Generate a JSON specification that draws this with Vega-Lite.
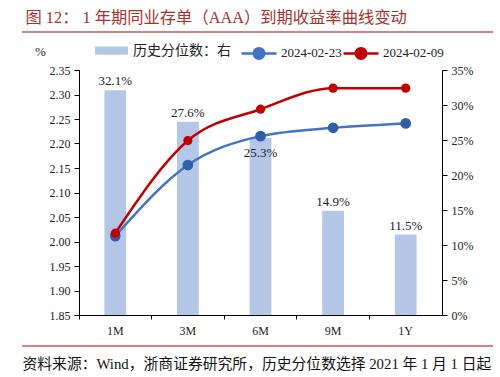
{
  "$schema": "https://vega.github.io/schema/vega-lite/v6.json",
  "width": 363,
  "height": 245,
  "autosize": {"type": "none"},
  "padding": {"left": 79, "top": 70, "right": 58, "bottom": 62},
  "background": "white",
  "config": {
    "view": {"stroke": null},
    "font": "Liberation Serif, Noto Sans CJK SC",
    "axis": {"labelFont": "Liberation Serif", "labelFontSize": 12, "labelColor": "#222", "domainColor": "#000", "tickColor": "#000", "grid": false, "labelOverlap": false, "labelBound": false, "labelSeparation": 0}
  },
  "datasets": {
    "bars": [
      {"tenor": "1M", "pct": 0.321, "series": "历史分位数：右"},
      {"tenor": "3M", "pct": 0.276, "series": "历史分位数：右"},
      {"tenor": "6M", "pct": 0.253, "series": "历史分位数：右"},
      {"tenor": "9M", "pct": 0.149, "series": "历史分位数：右"},
      {"tenor": "1Y", "pct": 0.115, "series": "历史分位数：右"}
    ],
    "lines": [
      {"tenor": "1M", "date": "2024-02-23", "yield": 2.011},
      {"tenor": "3M", "date": "2024-02-23", "yield": 2.156},
      {"tenor": "6M", "date": "2024-02-23", "yield": 2.215},
      {"tenor": "9M", "date": "2024-02-23", "yield": 2.232},
      {"tenor": "1Y", "date": "2024-02-23", "yield": 2.241},
      {"tenor": "1M", "date": "2024-02-09", "yield": 2.017},
      {"tenor": "3M", "date": "2024-02-09", "yield": 2.206},
      {"tenor": "6M", "date": "2024-02-09", "yield": 2.270},
      {"tenor": "9M", "date": "2024-02-09", "yield": 2.313},
      {"tenor": "1Y", "date": "2024-02-09", "yield": 2.313}
    ],
    "rules": [{"edge": "top", "level": 0.40429}, {"edge": "bottom", "level": -0.04429}]
  },
  "layer": [
    {
      "data": {"name": "bars"},
      "encoding": {
        "x": {
          "field": "tenor",
          "type": "nominal",
          "sort": ["1M", "3M", "6M", "9M", "1Y"],
          "scale": {"type": "band", "paddingInner": 0, "paddingOuter": 0},
          "axis": {
            "title": "资料来源：Wind，浙商证券研究所，历史分位数选择 2021 年 1 月 1 日起",
            "titleFont": "Liberation Serif, Noto Sans CJK SC",
            "titleFontSize": 14.8,
            "titleFontWeight": "normal",
            "titleColor": "#111",
            "titleAnchor": "start",
            "titleAlign": "left",
            "titleX": -57,
            "titleY": 53,
            "titleBaseline": "alphabetic",
            "labelAngle": 0,
            "labelPadding": 6,
            "bandPosition": 0,
            "tickSize": 4
          }
        },
        "y": {
          "field": "pct",
          "type": "quantitative",
          "scale": {"domain": [0, 0.35], "nice": false},
          "axis": {
            "orient": "right",
            "values": [0, 0.05, 0.1, 0.15, 0.2, 0.25, 0.3, 0.35],
            "format": ".0%",
            "tickSize": 5,
            "labelPadding": 4,
            "labelOverlap": false,
            "title": "图 12： 1 年期同业存单（AAA）到期收益率曲线变动",
            "titleAngle": 0,
            "titleAlign": "left",
            "titleBaseline": "alphabetic",
            "titleX": -417,
            "titleY": -48,
            "titleFont": "Liberation Serif, Noto Sans CJK SC",
            "titleFontSize": 16.3,
            "titleFontWeight": "normal",
            "titleColor": "#a5322d"
          }
        }
      },
      "layer": [
        {
          "mark": {"type": "bar", "width": {"band": 0.3}},
          "encoding": {
            "fill": {
              "field": "series",
              "type": "nominal",
              "scale": {"range": ["#b4c7e7"]},
              "legend": {
                "orient": "none",
                "legendX": 16,
                "legendY": -36,
                "title": null,
                "symbolType": "M-1,-0.25H1V0.25H-1Z",
                "symbolSize": 1089,
                "symbolStrokeWidth": 0,
                "labelFont": "Liberation Serif, Noto Sans CJK SC",
                "labelFontSize": 14,
                "labelColor": "#222",
                "labelOffset": 5
              }
            }
          }
        },
        {
          "transform": [{"filter": "datum.tenor !== '6M'"}],
          "mark": {"type": "text", "baseline": "bottom", "dy": -2, "fontSize": 13, "font": "Liberation Serif", "color": "#222"},
          "encoding": {
            "text": {"field": "pct", "type": "quantitative", "format": ".1%"}
          }
        },
        {
          "transform": [{"filter": "datum.tenor === '6M'"}],
          "mark": {"type": "text", "baseline": "top", "dy": 9, "fontSize": 13, "font": "Liberation Serif", "color": "#222"},
          "encoding": {
            "text": {"field": "pct", "type": "quantitative", "format": ".1%"}
          }
        },
        {
          "data": {"name": "rules"},
          "mark": {"type": "rule", "color": "#c9575a", "strokeWidth": 1.5, "clip": false},
          "encoding": {
            "x": {"value": -57},
            "x2": {"value": 414},
            "y": {"field": "level", "type": "quantitative"}
          }
        }
      ]
    },
    {
      "data": {"name": "lines"},
      "encoding": {
        "x": {
          "field": "tenor",
          "type": "nominal",
          "sort": ["1M", "3M", "6M", "9M", "1Y"],
          "scale": {"type": "band", "paddingInner": 0, "paddingOuter": 0},
          "axis": {
            "title": "资料来源：Wind，浙商证券研究所，历史分位数选择 2021 年 1 月 1 日起",
            "titleFont": "Liberation Serif, Noto Sans CJK SC",
            "titleFontSize": 14.8,
            "titleFontWeight": "normal",
            "titleColor": "#111",
            "titleAnchor": "start",
            "titleAlign": "left",
            "titleX": -57,
            "titleY": 53,
            "titleBaseline": "alphabetic",
            "labelAngle": 0,
            "labelPadding": 6,
            "bandPosition": 0,
            "tickSize": 4
          }
        },
        "y": {
          "field": "yield",
          "type": "quantitative",
          "scale": {"domain": [1.85, 2.35], "nice": false, "zero": false},
          "axis": {
            "orient": "left",
            "values": [1.85, 1.9, 1.95, 2.0, 2.05, 2.1, 2.15, 2.2, 2.25, 2.3, 2.35],
            "format": ".2f",
            "labelOverlap": false,
            "tickSize": 5,
            "labelPadding": 4,
            "title": "%",
            "titleAngle": 0,
            "titleX": -39,
            "titleY": -12,
            "titleFont": "Liberation Serif",
            "titleFontSize": 13,
            "titleFontWeight": "normal",
            "titleColor": "#222"
          }
        }
      },
      "layer": [
        {
          "mark": {"type": "line", "interpolate": "monotone", "strokeWidth": 2.5},
          "encoding": {
            "color": {
              "field": "date",
              "type": "nominal",
              "scale": {"domain": ["2024-02-23", "2024-02-09"], "range": ["#4472c4", "#c00000"]},
              "legend": {
                "orient": "none",
                "direction": "horizontal",
                "legendX": 161,
                "legendY": -36,
                "title": null,
                "symbolType": "M-1,0H-0.3M0.3,0H1M0.3,0A0.3,0.3,0,1,1,-0.3,0A0.3,0.3,0,1,1,0.3,0Z",
                "symbolSize": 1225,
                "symbolStrokeWidth": 2.5,
                "labelFont": "Liberation Serif",
                "labelFontSize": 13,
                "labelColor": "#222",
                "labelOffset": 3,
                "columnPadding": -6,
                "encode": {"symbols": {"update": {"fill": {"scale": "color", "field": "value"}}}}
              }
            }
          }
        },
        {
          "transform": [{"filter": "datum.date === '2024-02-23'"}],
          "mark": {"type": "point", "filled": true, "opacity": 1, "size": 115, "color": "#2f5fa8"}
        },
        {
          "transform": [{"filter": "datum.date === '2024-02-09'"}],
          "mark": {"type": "point", "filled": true, "opacity": 1, "size": 85, "color": "#c00000"}
        }
      ]
    }
  ],
  "resolve": {"scale": {"y": "independent"}}
}
